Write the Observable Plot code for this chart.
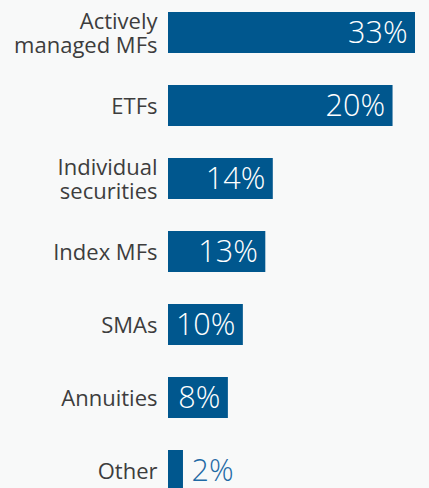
<!DOCTYPE html>
<html>
<head>
<meta charset="utf-8">
<script src="https://cdn.jsdelivr.net/npm/d3@7"></script>
<script src="https://cdn.jsdelivr.net/npm/@observablehq/plot@0.6"></script>
<style>
  html, body { margin: 0; padding: 0; background: #f8f9f9; overflow: hidden; }
  #chart { width: 429px; height: 488px; overflow: hidden; }
</style>
</head>
<body>
<div id="chart"></div>
<script>
// Categories (top to bottom)
const categories = ["Actively managed MFs", "ETFs", "Individual securities", "Index MFs", "SMAs", "Annuities", "Other"];
// Category labels as displayed (line breaks)
const categoryLabels = ["Actively\nmanaged MFs", "ETFs", "Individual\nsecurities", "Index MFs", "SMAs", "Annuities", "Other"];
// Bar lengths as drawn in the picture (percent units)
const barValues = [33, 30, 14, 13, 10, 8, 2];
// Value labels printed on the bars
const valueLabels = ["33%", "20%", "14%", "13%", "10%", "8%", "2%"];

const data = categories.map((c, i) => ({
  cat: c,
  label: categoryLabels[i],
  value: barValues[i],
  text: valueLabels[i],
  inside: barValues[i] >= 5
}));

const barColor = "#00578e";
const font = "'Open Sans', sans-serif";

const chart = Plot.plot({
  width: 429,
  height: 503,
  marginLeft: 168,
  marginRight: 14,
  marginTop: 0,
  marginBottom: 0,
  style: { background: "#f8f9f9", fontFamily: font },
  x: { domain: [0, 33], axis: null },
  y: { domain: categories, axis: null, paddingInner: 0.433, paddingOuter: 0.15 },
  marks: [
    Plot.barX(data, { x: "value", y: "cat", fill: barColor }),
    Plot.text(data, {
      x: 0, y: "cat", text: "label", textAnchor: "end", dx: -11,
      lineHeight: 1.1, fontSize: 22, fill: "#3d3d3d", fontFamily: font
    }),
    Plot.text(data.filter(d => d.inside), {
      x: "value", y: "cat", text: "text", textAnchor: "end", dx: -8,
      fontSize: 30.5, fill: "white", fontFamily: font, fontWeight: 300
    }),
    Plot.text(data.filter(d => !d.inside), {
      x: "value", y: "cat", text: "text", textAnchor: "start", dx: 8,
      fontSize: 30.5, fill: "#1f6aa5", fontFamily: font, fontWeight: 300
    })
  ]
});
document.getElementById("chart").appendChild(chart);
</script>
</body>
</html>
